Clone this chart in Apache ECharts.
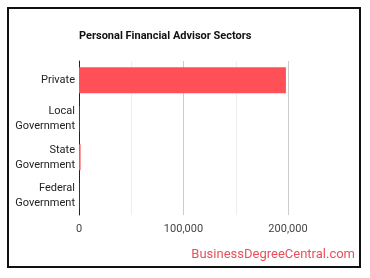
<!DOCTYPE html>
<html><head><meta charset="utf-8">
<script src="https://cdn.jsdelivr.net/npm/echarts@6/dist/echarts.min.js"></script>
<style>html,body{margin:0;padding:0;background:#fff}#c{width:370px;height:278px}</style>
</head><body><div id="c"></div>
<script>
const categories = ['Private', 'Local\nGovernment', 'State\nGovernment', 'Federal\nGovernment'];
const values = [198000, 300, 1500, 200];
const xTickValues = [0, 100000, 200000];

const chart = echarts.init(document.getElementById('c'), null, {renderer: 'canvas'});
chart.setOption({
  backgroundColor: '#fff',
  animation: false,
  title: {
    text: 'Personal Financial Advisor Sectors',
    left: 74, top: 26,
    textStyle: {fontFamily: 'Roboto', fontSize: 11, fontWeight: 'bold', color: '#111'}
  },
  grid: {left: 79, right: 82, top: 61, bottom: 63, containLabel: false},
  xAxis: {
    type: 'value', min: 0, max: 200000, interval: 50000,
    axisLine: {show: false}, axisTick: {show: false},
    axisLabel: {
      fontFamily: 'Roboto', fontSize: 11, color: '#444', margin: 9,
      formatter: v => xTickValues.includes(v) ? v.toLocaleString('en-US') : ''
    },
    splitLine: {lineStyle: {color: ['#ccc', '#eee'], width: 1}}
  },
  yAxis: {
    type: 'category', data: categories, inverse: true,
    axisLine: {show: true, lineStyle: {color: '#222', width: 1}},
    axisTick: {show: false},
    axisLabel: {fontFamily: 'Roboto', fontSize: 11, color: '#222', margin: 4, lineHeight: 15}
  },
  series: [{
    type: 'bar', data: values, barWidth: 26,
    itemStyle: {color: '#ff5057'}
  }],
  graphic: [
    {type: 'rect', shape: {x: 8, y: 8, width: 352, height: 259}, style: {fill: 'none', stroke: '#111', lineWidth: 2}, z: 100},
    {type: 'text', right: 15, top: 248, style: {text: 'BusinessDegreeCentral.com', fontFamily: 'Roboto', fontSize: 13, fill: '#e8505b'}}
  ]
});
</script></body></html>
